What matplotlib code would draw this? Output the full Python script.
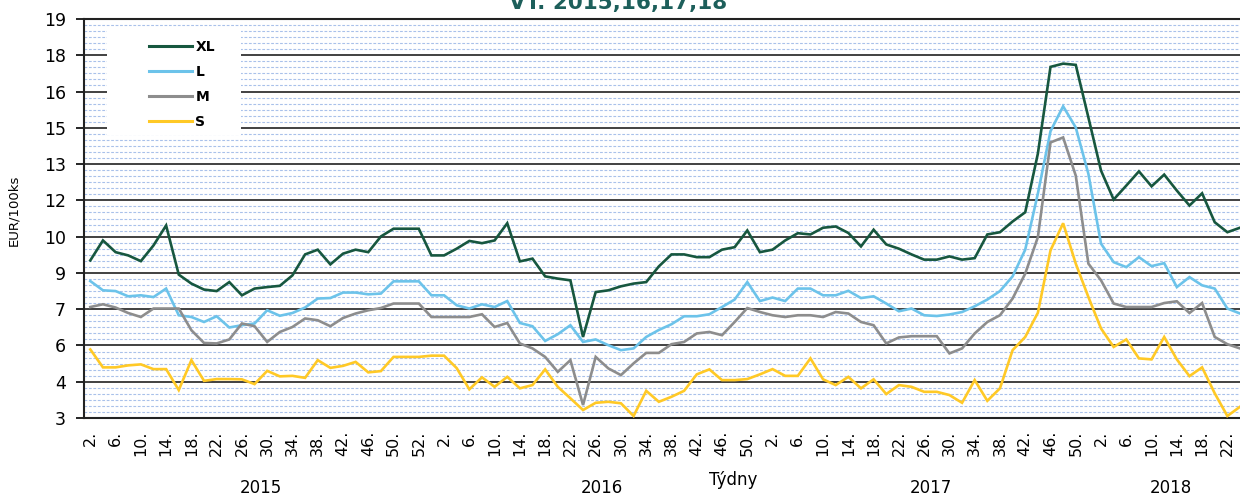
import matplotlib

matplotlib.use("Agg")
import matplotlib.pyplot as plt
import numpy as np
from matplotlib.patches import Rectangle
from matplotlib.ticker import FuncFormatter
from matplotlib.transforms import blended_transform_factory

# Týdenní ceny vajec (EUR/100ks), dvoutýdenní body 2015-2018
YEARS = ["2015", "2016", "2017", "2018"]
YEAR_POINTS = [28, 26, 26, 12]

WEEKS_2015 = [2, 6, 10, 14, 18, 22, 26, 30, 34, 38, 42, 46, 50, 52]
WEEKS_2016 = [2, 6, 10, 14, 18, 22, 26, 30, 34, 38, 42, 46, 50]
WEEKS_2017 = [2, 6, 10, 14, 18, 22, 26, 30, 34, 38, 42, 46, 50]
WEEKS_2018 = [2, 6, 10, 14, 18, 22]

XL = [9.32, 10.12, 9.65, 9.52, 9.29, 9.92, 10.72, 8.75, 8.39, 8.15,
      8.09, 8.45, 7.92, 8.19, 8.25, 8.30, 8.72, 9.56, 9.75, 9.16,
      9.59, 9.75, 9.65, 10.28, 10.59, 10.59, 10.59, 9.52, 9.52, 9.79,
      10.10, 10.01, 10.12, 10.81, 9.28, 9.39, 8.68, 8.59, 8.52, 6.25,
      8.05, 8.12, 8.28, 8.39, 8.45, 9.08, 9.56, 9.56, 9.45, 9.45,
      9.75, 9.85, 10.52, 9.65, 9.75, 10.12, 10.41, 10.36, 10.63, 10.68,
      10.42, 9.88, 10.55, 9.96, 9.79, 9.56, 9.35, 9.35, 9.48, 9.35,
      9.41, 10.36, 10.45, 10.88, 11.25, 13.60, 17.08, 17.21, 17.16, 15.05,
      12.92, 11.76, 12.32, 12.89, 12.29, 12.76, 12.12, 11.52, 12.01, 10.85,
      10.45, 10.63]
L = [8.49, 8.12, 8.09, 7.88, 7.92, 7.85, 8.19, 7.12, 7.05, 6.85,
     7.08, 6.63, 6.72, 6.79, 7.32, 7.10, 7.21, 7.43, 7.79, 7.81,
     8.03, 8.03, 7.96, 7.99, 8.48, 8.48, 8.48, 7.92, 7.92, 7.52,
     7.39, 7.56, 7.45, 7.69, 6.81, 6.68, 6.09, 6.36, 6.72, 6.05,
     6.15, 5.92, 5.72, 5.79, 6.25, 6.53, 6.76, 7.08, 7.08, 7.16,
     7.45, 7.75, 8.45, 7.69, 7.83, 7.69, 8.19, 8.19, 7.92, 7.92,
     8.10, 7.81, 7.88, 7.59, 7.28, 7.39, 7.12, 7.09, 7.15, 7.25,
     7.48, 7.75, 8.09, 8.68, 9.75, 12.00, 14.50, 15.50, 14.65, 12.79,
     9.99, 9.25, 9.05, 9.45, 9.09, 9.21, 8.25, 8.65, 8.32, 8.19,
     7.39, 7.19]
M = [7.45, 7.56, 7.43, 7.21, 7.05, 7.39, 7.39, 7.39, 6.52, 6.01,
     5.99, 6.15, 6.79, 6.68, 6.05, 6.45, 6.65, 6.99, 6.92, 6.68,
     7.01, 7.19, 7.32, 7.41, 7.59, 7.59, 7.59, 7.05, 7.05, 7.05,
     7.05, 7.16, 6.65, 6.81, 5.99, 5.79, 5.45, 4.85, 5.32, 3.52,
     5.45, 4.99, 4.72, 5.19, 5.61, 5.61, 5.96, 6.05, 6.39, 6.45,
     6.32, 6.85, 7.41, 7.25, 7.12, 7.05, 7.12, 7.12, 7.05, 7.25,
     7.19, 6.85, 6.72, 5.99, 6.23, 6.28, 6.28, 6.28, 5.59, 5.79,
     6.39, 6.85, 7.12, 7.79, 8.79, 10.25, 14.05, 14.25, 12.72, 9.19,
     8.52, 7.59, 7.45, 7.45, 7.45, 7.61, 7.68, 7.21, 7.61, 6.25,
     5.96, 5.79]
S = [5.75, 5.03, 5.03, 5.11, 5.15, 4.96, 4.96, 4.12, 5.32, 4.49,
     4.56, 4.56, 4.55, 4.36, 4.89, 4.67, 4.69, 4.61, 5.32, 5.01,
     5.09, 5.25, 4.83, 4.88, 5.45, 5.45, 5.45, 5.50, 5.50, 5.00,
     4.15, 4.63, 4.25, 4.65, 4.19, 4.32, 4.95, 4.25, 3.79, 3.32,
     3.61, 3.65, 3.59, 3.08, 4.09, 3.65, 3.85, 4.09, 4.75, 4.95,
     4.52, 4.52, 4.56, 4.75, 4.96, 4.69, 4.69, 5.39, 4.55, 4.32,
     4.65, 4.19, 4.55, 3.96, 4.32, 4.25, 4.05, 4.05, 3.92, 3.61,
     4.52, 3.69, 4.19, 5.72, 6.25, 7.22, 9.72, 10.81, 9.19, 7.85,
     6.59, 5.85, 6.15, 5.39, 5.35, 6.25, 5.35, 4.68, 5.03, 3.99,
     3.08, 3.45]

SERIES = [("XL", XL, "#17573f"), ("L", L, "#6cc3ea"),
          ("M", M, "#8d8d8d"), ("S", S, "#ffc926")]

Y_MIN, Y_MAX = 3, 19


def main() -> None:
    fig = plt.figure(figsize=(12.4, 4.95), dpi=100)
    ax = fig.add_axes([84 / 1240, 1 - 418 / 495, 1 - 84 / 1240, (418 - 19) / 495])

    x = np.arange(len(XL))
    for name, values, color in SERIES:
        ax.plot(x, values, color=color, lw=1.9, label=name, zorder=3,
                solid_joinstyle="miter")

    ax.set_xlim(-0.5, len(XL) - 1)
    ax.set_ylim(Y_MIN, Y_MAX)

    major = np.linspace(Y_MIN, Y_MAX, 12)
    minor = np.linspace(Y_MIN, Y_MAX, 67)
    ax.set_yticks(major)
    ax.set_yticks(minor, minor=True)
    ax.yaxis.set_major_formatter(FuncFormatter(lambda v, _: f"{v:.0f}"))
    ax.tick_params(axis="y", which="major", length=6, width=1.2, pad=7,
                   labelsize=12.5, direction="out")
    ax.tick_params(axis="y", which="minor", length=0)
    ax.set_axisbelow(True)
    ax.grid(axis="y", which="minor", color="#a9c1ea", lw=0.8, ls=(0, (2.5, 1.5)))
    ax.grid(axis="y", which="major", color="#333333", lw=1.3)

    week_labels = [f"{w}." for w in WEEKS_2015 + WEEKS_2016 + WEEKS_2017 + WEEKS_2018]
    ax.set_xticks(np.arange(0, 2 * len(week_labels), 2))
    ax.set_xticklabels(week_labels, rotation=90, fontsize=11.5, va="top", ha="center")
    ax.tick_params(axis="x", length=0, pad=9)

    for side in ("left", "bottom", "top"):
        ax.spines[side].set_linewidth(1.5)
        ax.spines[side].set_color("#222222")
    ax.spines["right"].set_visible(False)

    # bílé pozadí legendy přes mřížku
    ax.add_patch(Rectangle(((107 - 84) / 1156, 1 - (135 - 19) / 399),
                           (241 - 107) / 1156, (135 - 28) / 399,
                           transform=ax.transAxes, facecolor="white",
                           edgecolor="none", zorder=1))
    leg = ax.legend(loc="upper left", bbox_to_anchor=((142 - 84) / 1156, 1 - (33 - 19) / 399),
                    frameon=False, borderpad=0, handlelength=3.1, handletextpad=0.25,
                    labelspacing=0.8, prop={"weight": "bold", "size": 10})
    for line in leg.get_lines():
        line.set_linewidth(2.2)

    # popisky roků pod osou
    trans = blended_transform_factory(ax.transData, fig.transFigure)
    start = 0
    for year, n in zip(YEARS, YEAR_POINTS):
        ax.text(start + (n - 1) / 2, 1 - 488 / 495, year, transform=trans,
                ha="center", va="center", fontsize=12)
        start += n

    fig.text(733 / 1240, 1 - 480 / 495, "Týdny", ha="center", va="center", fontsize=12)
    fig.text(14 / 1240, 1 - 210 / 495, "EUR/100ks", rotation=90, ha="center",
             va="center", fontsize=9.5)
    fig.text(618 / 1240, 1 - 9.5 / 495, "VT. 2015,16,17,18", ha="center",
             va="baseline", fontsize=15.5, fontweight="bold", color="#1d5f5b")

    fig.savefig("out.png", dpi=100)


if __name__ == "__main__":
    main()
